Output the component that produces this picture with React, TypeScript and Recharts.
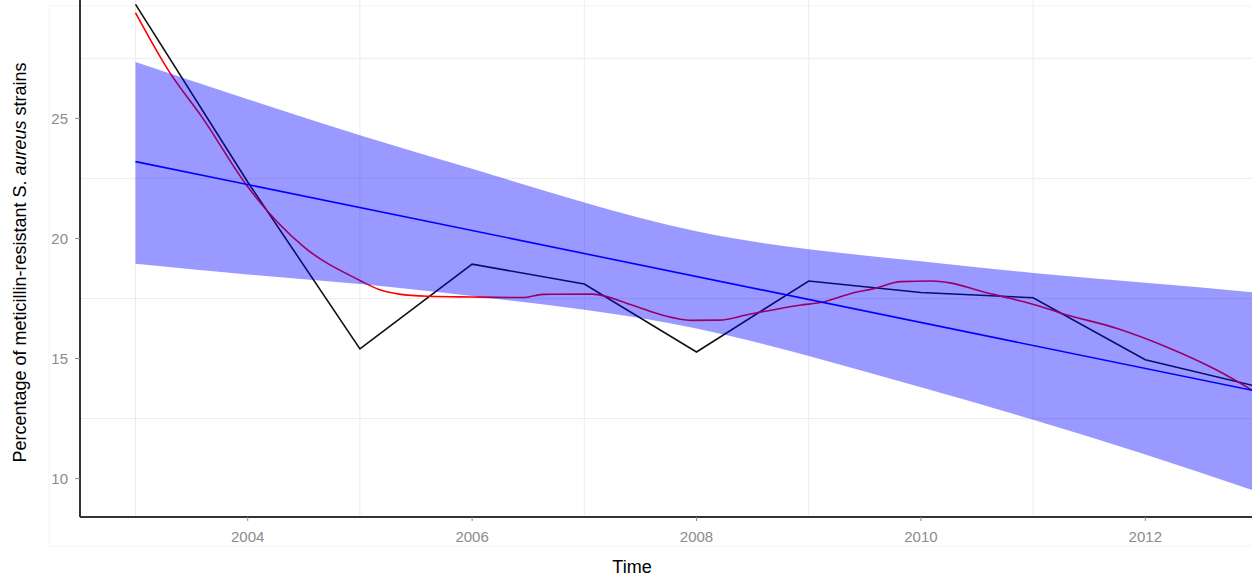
import React from "react";
import { ComposedChart, Line, Area, XAxis, YAxis, CartesianGrid } from "recharts";

// Observed yearly percentages (black line)
const OBS_YEARS = [2003, 2004, 2005, 2006, 2007, 2008, 2009, 2010, 2011, 2012, 2013];
const OBS_VALUES = [29.75, 22.35, 15.4, 18.93, 18.1, 15.27, 18.23, 17.75, 17.53, 14.95, 13.83];

// Loess smoother (red line)
const SMOOTH_X = [2003, 2003.3, 2003.6, 2004, 2004.5, 2005, 2005.17, 2005.35, 2005.6, 2006, 2006.45, 2006.63, 2007.07, 2007.43, 2007.7, 2007.95, 2008.2, 2008.47, 2008.92, 2009.13, 2009.37, 2009.58, 2009.82, 2010.1, 2010.26, 2010.56, 2010.8, 2011.06, 2011.24, 2011.75, 2012.19, 2012.64, 2013];
const SMOOTH_Y = [29.4, 26.95, 25.0, 22.15, 19.65, 18.25, 17.87, 17.68, 17.59, 17.56, 17.54, 17.67, 17.68, 17.22, 16.8, 16.59, 16.6, 16.84, 17.22, 17.35, 17.7, 17.91, 18.2, 18.23, 18.15, 17.77, 17.5, 17.18, 16.9, 16.25, 15.48, 14.51, 13.55];

// Linear fit (blue line) and its confidence band
const FIT_YEARS = [2003, 2013];
const FIT_VALUES = [23.2, 13.63];
const BAND_YEARS = [2003, 2004, 2005, 2006, 2007, 2008, 2009, 2010, 2011, 2012, 2013];
const BAND_LOWER = [18.95, 18.5, 18.1, 17.6, 17.03, 16.25, 15.1, 13.8, 12.45, 11.0, 9.45];
const BAND_UPPER = [27.35, 25.8, 24.3, 22.9, 21.5, 20.3, 19.55, 19.05, 18.56, 18.15, 17.74];

const X_TICKS = [2004, 2006, 2008, 2010, 2012];
const Y_TICKS = [10, 15, 20, 25];
const X_MINOR = [2003, 2005, 2007, 2009, 2011, 2013];
const Y_MINOR = [12.5, 17.5, 22.5, 27.5];

const X_DOMAIN: [number, number] = [2002.505, 2012.951];
const Y_DOMAIN: [number, number] = [8.4, 29.93];

const obsData = OBS_YEARS.map((year, i) => ({ year, value: OBS_VALUES[i] }));
const smoothData = SMOOTH_X.map((year, i) => ({ year, value: SMOOTH_Y[i] }));
const fitData = FIT_YEARS.map((year, i) => ({ year, value: FIT_VALUES[i] }));
const bandData = BAND_YEARS.map((year, i) => ({ year, band: [BAND_LOWER[i], BAND_UPPER[i]] }));

const FONT = "'Liberation Sans', Arial, sans-serif";

export default function App() {
  return (
    <div style={{ position: "absolute", left: 0, top: 0, width: 1252, height: 577, background: "#fff", fontFamily: FONT }}>
      <svg width={1252} height={577} style={{ position: "absolute", left: 0, top: 0 }}>
        <rect x={49} y={6} width={1260} height={540} fill="none" stroke="#f3f3f3" strokeWidth={1} />
      </svg>
      {/* base layer: grid, axes, observed and smoothed lines */}
      <div style={{ position: "absolute", left: 0, top: 0 }}>
        <ComposedChart width={1252} height={577} margin={{ top: 0, right: 0, bottom: 0, left: 0 }}>
          <CartesianGrid stroke="#ececec" strokeWidth={1} horizontalValues={Y_MINOR} verticalValues={X_MINOR} />
          <XAxis
            type="number"
            dataKey="year"
            domain={X_DOMAIN}
            allowDataOverflow
            ticks={X_TICKS}
            height={60}
            tickSize={4}
            tickMargin={10}
            tick={{ fill: "#8c8c8c", fontSize: 15, fontFamily: FONT }}
            tickLine={{ stroke: "#8c8c8c" }}
            axisLine={{ stroke: "#333333", strokeWidth: 2 }}
          />
          <YAxis
            type="number"
            domain={Y_DOMAIN}
            allowDataOverflow
            ticks={Y_TICKS}
            width={80}
            tickSize={5}
            tickMargin={7}
            tick={{ fill: "#8c8c8c", fontSize: 15, fontFamily: FONT }}
            tickLine={{ stroke: "#8c8c8c" }}
            axisLine={{ stroke: "#333333", strokeWidth: 2 }}
          />
          <Line data={obsData} dataKey="value" type="linear" stroke="#111111" strokeWidth={1.6} dot={false} activeDot={false} isAnimationActive={false} />
          <Line data={smoothData} dataKey="value" type="monotone" stroke="#ff0000" strokeWidth={1.6} dot={false} activeDot={false} isAnimationActive={false} />
        </ComposedChart>
      </div>
      {/* top layer: translucent confidence band and fitted line */}
      <div style={{ position: "absolute", left: 0, top: 0, pointerEvents: "none" }}>
        <ComposedChart width={1252} height={577} margin={{ top: 0, right: 0, bottom: 60, left: 80 }}>
          <XAxis type="number" dataKey="year" domain={X_DOMAIN} allowDataOverflow hide />
          <YAxis type="number" domain={Y_DOMAIN} allowDataOverflow hide />
          <Area data={bandData} dataKey="band" type="natural" stroke="none" fill="#0000ff" fillOpacity={0.4} isAnimationActive={false} />
          <Line data={fitData} dataKey="value" type="linear" stroke="#0000ff" strokeWidth={1.6} dot={false} activeDot={false} isAnimationActive={false} />
        </ComposedChart>
      </div>
      <svg width={1252} height={577} style={{ position: "absolute", left: 0, top: 0, pointerEvents: "none" }}>
        <text x={632} y={573} textAnchor="middle" fontSize={18} fill="#000" fontFamily={FONT}>Time</text>
        <text transform="translate(26,262.5) rotate(-90)" textAnchor="middle" fontSize={18} fill="#000" fontFamily={FONT}>
          Percentage of meticillin-resistant S. <tspan fontStyle="italic">aureus</tspan> strains
        </text>
      </svg>
    </div>
  );
}
